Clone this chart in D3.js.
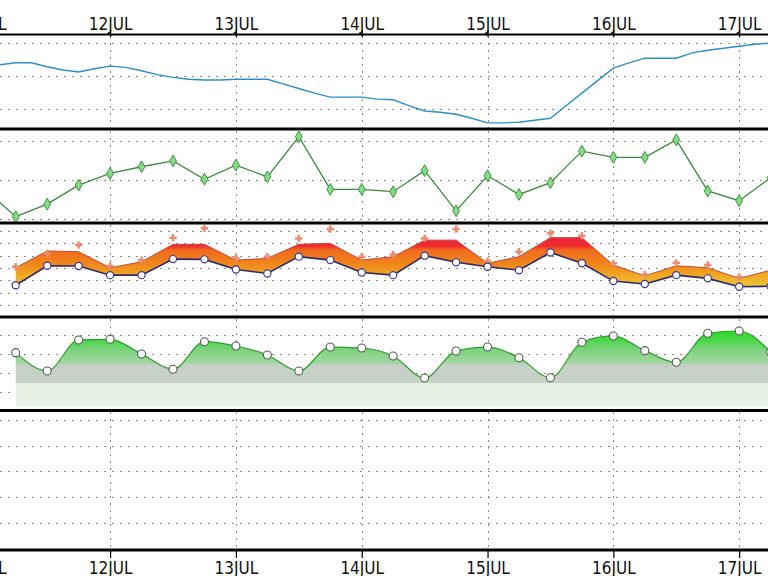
<!DOCTYPE html>
<head>
  <meta charset="utf-8">
  <script src="https://d3js.org/d3.v7.min.js"></script>
  <style>
    body { margin:0; background:#fff; }
    svg { display:block; }
    .grid line { stroke:#8c8c8c; stroke-width:1; stroke-dasharray:2,6; }
    .vgrid line { stroke:#8c8c8c; stroke-width:1; stroke-dasharray:2,5; }
    .lbl { font-family:"Liberation Sans Narrow","Arial Narrow","DejaVu Sans Condensed",sans-serif; font-size:17px; fill:#111; }
  </style>
</head>
<body>
<div id="chart"></div>
<script>
// day labels, ticks at midnight of each day
const dayLabels = ["11JUL","12JUL","13JUL","14JUL","15JUL","16JUL","17JUL"];

// panel 1: pressure (hPa), every 3 hours (hours since 11JUL 00:00)
const pressureHours = [3,6,9,12,15,18,21,24,27,30,33,36,39,42,45,48,51,54,57,60,63,66,69,72,75,
  78,81,84,87,90,93,96,99,102,105,108,111,114,117,120,123,126,129,132,135,138,141,144,147,150];
const pressure = [1016.7,1017.0,1017.0,1016.4,1015.9,1015.6,1016.1,1016.5,1016.3,1015.8,1015.2,1014.8,
  1014.5,1014.4,1014.4,1014.5,1014.5,1014.5,1013.8,1013.1,1012.4,1011.8,1011.8,1011.8,1011.5,1011.4,
  1010.5,1009.7,1009.5,1009.2,1008.6,1007.9,1007.9,1008.0,1008.3,1008.6,1010.5,1012.4,1014.3,1016.2,
  1017.0,1017.7,1017.7,1017.7,1018.5,1018.9,1019.2,1019.5,1019.8,1020.0];

// panel 2: every 6 hours
const windHours = [0,6,12,18,24,30,36,42,48,54,60,66,72,78,84,90,96,102,108,114,120,126,132,138,144,150];
const wind = [17.8,10.6,13.8,18.7,21.7,23.4,24.9,20.2,23.8,20.8,31.1,17.6,17.6,17.0,22.4,12.1,21.1,16.3,
  19.3,27.4,25.8,25.8,30.3,17.2,14.7,20.6];

// panels 3 and 4: every 6 hours from 11JUL 06:00
const stepHours = [6,12,18,24,30,36,42,48,54,60,66,72,78,84,90,96,102,108,114,120,126,132,138,144,150];
const tempLow = [13.0,20.9,20.8,17.1,17.1,23.6,23.5,19.4,17.8,24.6,23.2,18.2,17.1,25.0,22.3,20.5,19.1,
  26.3,21.9,14.7,13.5,17.1,15.8,12.4,12.6];
const tempHigh = [20.1,26.9,26.6,20.1,22.5,29.6,29.6,23.2,23.9,29.6,30.0,23.2,24.6,31.3,31.3,21.9,24.6,
  32.3,32.3,21.2,16.8,20.9,20.1,15.8,19.1];
const tempPeak = [20.5,25.9,29.3,20.8,23.2,32.3,36.1,24.1,24.6,32.0,35.8,24.6,25.5,32.0,35.8,22.8,26.6,
  34.1,33.1,21.9,17.4,22.1,21.2,16.4,null];
const humidity = [61.5,42.3,74.8,75.5,60.1,44.1,73.0,68.5,59.1,42.3,67.4,66.4,58.0,35.0,63.2,67.4,56.2,
  35.3,72.4,79.0,63.6,51.4,81.8,84.2,62.2];

const W = 768, H = 576;
const t0 = Date.UTC(2013, 6, 11);
const at = h => new Date(t0 + h * 3600e3);

const x = d3.scaleUtc().domain([at(3), at(149.5)]).range([0, W]);

const panels = [
  {top: 36,  bottom: 128, y: d3.scaleLinear().domain([1010, 1020]).range([109, 43]), grid: [1010, 1015, 1020]},
  {top: 131, bottom: 222, y: d3.scaleLinear().domain([10, 30]).range([219, 141]), grid: [10, 20, 30]},
  {top: 225, bottom: 316, y: d3.scaleLinear().domain([5, 35]).range([305, 231]), grid: [5, 10, 15, 20, 25, 30, 35]},
  {top: 319, bottom: 409, y: d3.scaleLinear().domain([20, 80]).range([392.3, 335]), grid: [20, 40, 60, 80]},
  {top: 412, bottom: 549, y: d3.scaleLinear().domain([0, 4]).range([522.8, 420]), grid: [0, 1, 2, 3, 4]}
];

const svg = d3.select('#chart').append('svg').attr('width', W).attr('height', H);
const defs = svg.append('defs');

const days = dayLabels.map((d, i) => at(24 * i));

panels.forEach((p, i) => {
  defs.append('clipPath').attr('id', 'clip' + i)
    .append('rect').attr('x', 0).attr('y', p.top).attr('width', W).attr('height', p.bottom - p.top);
  p.g = svg.append('g').attr('clip-path', `url(#clip${i})`);
  p.g.append('g').attr('class', 'grid')
    .selectAll('line').data(p.grid).join('line')
    .attr('x1', 0).attr('x2', W)
    .attr('y1', d => Math.round(p.y(d)) + 0.5).attr('y2', d => Math.round(p.y(d)) + 0.5);
  p.g.append('g').attr('class', 'vgrid')
    .selectAll('line').data(days).join('line')
    .attr('x1', d => Math.round(x(d)) + 0.5).attr('x2', d => Math.round(x(d)) + 0.5)
    .attr('y1', p.top).attr('y2', p.bottom);
});

// gradients
function vGradient(id, stops) {
  const g = defs.append('linearGradient').attr('id', id)
    .attr('gradientUnits', 'userSpaceOnUse').attr('x1', 0).attr('x2', 0)
    .attr('y1', stops[0][0]).attr('y2', stops[stops.length - 1][0]);
  const y0 = stops[0][0], y1 = stops[stops.length - 1][0];
  stops.forEach(s => g.append('stop').attr('offset', (s[0] - y0) / (y1 - y0)).attr('stop-color', s[1]));
}
vGradient('tempFill', [[230, '#e8204c'], [246, '#f02a30'], [250, '#f06a1e'], [264, '#f0861a'],
  [274, '#f2a420'], [290, '#ecd040']]);
vGradient('humFill', [[330, '#22dc22'], [341, '#4fd64f'], [352, '#86d286'], [363.6, '#a4d6a4'],
  [363.7, '#c6cfc6'], [382.7, '#c9d2c9'], [382.8, '#e3efe3'], [407, '#e8f3e8']]);

// panel 1
const p1 = panels[0];
p1.g.append('path')
  .datum(pressureHours.map((h, i) => [at(h), pressure[i]]))
  .attr('fill', 'none').attr('stroke', '#2e8fc4').attr('stroke-width', 1.4)
  .attr('d', d3.line().x(d => x(d[0])).y(d => p1.y(d[1])));

// panel 2
const p2 = panels[1];
const windData = windHours.map((h, i) => [at(h), wind[i]]);
p2.g.append('path').datum(windData)
  .attr('fill', 'none').attr('stroke', '#3d8a3d').attr('stroke-width', 1.3)
  .attr('d', d3.line().x(d => x(d[0])).y(d => p2.y(d[1])));
p2.g.selectAll('.mk').data(windData).join('path')
  .attr('transform', d => `translate(${x(d[0])},${p2.y(d[1])})`)
  .attr('d', d3.symbol(d3.symbolDiamond, 40))
  .attr('fill', '#86dc86').attr('stroke', '#3a963a').attr('stroke-width', 1);

// panel 3
const p3 = panels[2];
const temp = stepHours.map((h, i) => ({t: at(h), lo: tempLow[i], hi: tempHigh[i], pk: tempPeak[i]}));
p3.g.append('path').datum(temp)
  .attr('fill', 'url(#tempFill)')
  .attr('d', d3.area().x(d => x(d.t)).y0(d => p3.y(d.lo)).y1(d => p3.y(d.hi)));
p3.g.append('path').datum(temp)
  .attr('fill', 'none').attr('stroke', '#c8483a').attr('stroke-width', 1)
  .attr('d', d3.line().x(d => x(d.t)).y(d => p3.y(d.hi)));
p3.g.append('path').datum(temp)
  .attr('fill', 'none').attr('stroke', '#2a2a72').attr('stroke-width', 1.6)
  .attr('d', d3.line().x(d => x(d.t)).y(d => p3.y(d.lo)));
p3.g.selectAll('.pk').data(temp.filter(d => d.pk != null)).join('path')
  .attr('transform', d => `translate(${x(d.t)},${p3.y(d.pk)})`)
  .attr('d', d3.symbol(d3.symbolCross, 30))
  .attr('fill', '#ec8c72');
p3.g.selectAll('.lo').data(temp).join('circle')
  .attr('cx', d => x(d.t)).attr('cy', d => p3.y(d.lo)).attr('r', 3.6)
  .attr('fill', '#fff').attr('stroke', '#3a3a92').attr('stroke-width', 1.2);

// panel 4
const p4 = panels[3];
const hum = stepHours.map((h, i) => [at(h), humidity[i]]);
p4.g.append('path').datum(hum)
  .attr('fill', 'url(#humFill)')
  .attr('d', d3.area().curve(d3.curveMonotoneX).x(d => x(d[0])).y0(p4.y(5)).y1(d => p4.y(d[1])));
p4.g.append('path').datum(hum)
  .attr('fill', 'none').attr('stroke', '#2c9e2c').attr('stroke-width', 1.2)
  .attr('d', d3.line().curve(d3.curveMonotoneX).x(d => x(d[0])).y(d => p4.y(d[1])));
p4.g.selectAll('.hm').data(hum).join('circle')
  .attr('cx', d => x(d[0])).attr('cy', d => p4.y(d[1])).attr('r', 4)
  .attr('fill', '#fff').attr('stroke', '#4f604f').attr('stroke-width', 1.1);

// separators
[[34.5, 2], [129, 3], [223, 3], [317, 3], [410.5, 3], [550, 3]].forEach(s => {
  svg.append('line').attr('x1', 0).attr('x2', W).attr('y1', s[0]).attr('y2', s[0])
    .attr('stroke', '#000').attr('stroke-width', s[1]);
});

// axes
const fmt = (d, i) => dayLabels[i];
const topAxis = svg.append('g').attr('transform', 'translate(0,37)')
  .call(d3.axisTop(x).tickValues(days).tickFormat(fmt).tickSize(7).tickPadding(0));
topAxis.select('.domain').remove();
topAxis.selectAll('line').attr('stroke', '#000').attr('stroke-width', 1.2);
topAxis.selectAll('text').attr('class', 'lbl').attr('y', -7).attr('dy', 0).attr('fill', '#111');

const botAxis = svg.append('g').attr('transform', 'translate(0,550)')
  .call(d3.axisBottom(x).tickValues(days).tickFormat(fmt).tickSize(8).tickPadding(0));
botAxis.select('.domain').remove();
botAxis.selectAll('line').attr('stroke', '#000').attr('stroke-width', 1.2);
botAxis.selectAll('text').attr('class', 'lbl').attr('y', 24).attr('dy', 0).attr('fill', '#111');
</script>
</body>
